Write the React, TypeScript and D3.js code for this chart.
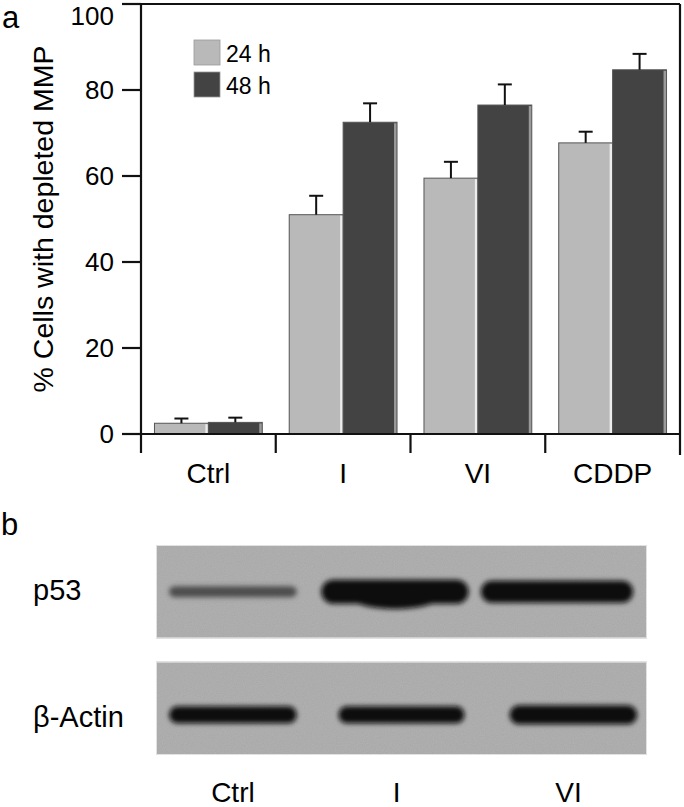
import React from "react";
import * as d3 from "d3";

const categories = ["Ctrl", "I", "VI", "CDDP"];
const series = ["24 h", "48 h"];
const values24 = [2.5, 51, 59.5, 67.7];
const values48 = [2.7, 72.5, 76.5, 84.7];
const err24 = [1.1, 4.4, 3.8, 2.6];
const err48 = [1.1, 4.4, 4.8, 3.7];
const yTicks = [0, 20, 40, 60, 80, 100];
const seriesColors = ["#b9b9b9", "#434343"];
const seriesEdge = ["#ececec", "#9a9a9a"];

const blotLanes = ["Ctrl", "I", "VI"];
const blotRows = ["p53", "β-Actin"];
const p53Intensity = [0.55, 1, 1];
const p53Thickness = [11, 24, 22];
const p53Width = [0.78, 0.9, 0.93];
const p53Offset = [-0.03, -0.04, -0.05];
const actinIntensity = [1, 1, 1];
const actinThickness = [17, 17, 19];
const actinWidth = [0.78, 0.77, 0.78];
const actinOffset = [-0.03, 0, 0.05];

const FONT = "'Liberation Sans', Arial, Helvetica, sans-serif";

export default function App() {
  const W = 684, H = 807;
  const left = 141, right = 680, top = 4, base = 434;
  const x0 = d3.scaleBand<string>().domain(categories).range([left, right]).padding(0);
  const bw = x0.bandwidth();
  const x1 = d3.scaleBand<string>().domain(series).range([bw * 0.1, bw * 0.9]).padding(0);
  const y = d3.scaleLinear().domain([0, 100]).range([base, top]);
  const tickLen = 19;

  const data = categories.map((c, i) => ({
    c,
    vals: [values24[i], values48[i]],
    errs: [err24[i], err48[i]],
  }));

  const blotX = d3.scaleBand<string>().domain(blotLanes).range([156, 647]).padding(0);
  const blotY = d3.scaleBand<string>().domain(blotRows).range([545, 755]).paddingInner(0.2);
  const lw = blotX.bandwidth();
  const rowH = blotY.bandwidth();

  return (
    <svg width={W} height={H} style={{ position: "absolute", left: 0, top: 0, background: "#fff" }} fontFamily={FONT}>
      <defs>
        <filter id="blur" x="-20%" y="-80%" width="140%" height="260%">
          <feGaussianBlur stdDeviation="2.6" />
        </filter>
        <filter id="noise" x="0" y="0" width="100%" height="100%">
          <feTurbulence type="fractalNoise" baseFrequency="0.9" numOctaves="2" seed="3" result="n" />
          <feColorMatrix type="matrix" values="0 0 0 0 0.62  0 0 0 0 0.62  0 0 0 0 0.62  0 0 0 0.25 0" in="n" result="c" />
          <feComposite in="c" in2="SourceGraphic" operator="in" result="t" />
          <feMerge>
            <feMergeNode in="SourceGraphic" />
            <feMergeNode in="t" />
          </feMerge>
        </filter>
      </defs>

      <text x={2} y={28} fontSize={31}>a</text>
      <text x={1} y={535} fontSize={31}>b</text>

      {data.map((d) => (
        <g key={d.c} transform={`translate(${x0(d.c)},0)`}>
          {series.map((s, si) => {
            const bx = x1(s)!;
            const w = x1.bandwidth();
            const yt = y(d.vals[si]);
            const ye = y(d.vals[si] + d.errs[si]);
            return (
              <g key={s}>
                <rect x={bx} y={yt} width={w} height={base - yt} fill={seriesColors[si]} stroke="#555" strokeWidth={1} />
                <rect x={bx + w - 3} y={yt + 1} width={2.5} height={base - yt - 1} fill={seriesEdge[si]} />
                <line x1={bx + w / 2} x2={bx + w / 2} y1={yt} y2={ye} stroke="#111" strokeWidth={2} />
                <line x1={bx + w / 2 - 7} x2={bx + w / 2 + 7} y1={ye} y2={ye} stroke="#111" strokeWidth={2} />
              </g>
            );
          })}
        </g>
      ))}

      <g stroke="#111" strokeWidth={2.2} fill="none">
        <line x1={left - tickLen} x2={right} y1={top} y2={top} />
        <line x1={left} x2={left} y1={top} y2={base + tickLen} />
        <line x1={right} x2={right} y1={top} y2={base + tickLen + 2} />
        <line x1={left - tickLen} x2={right} y1={base} y2={base} />
        {yTicks.map((t) => (
          <line key={t} x1={left - tickLen} x2={left} y1={y(t)} y2={y(t)} />
        ))}
        {categories.slice(1).map((c) => (
          <line key={c} x1={x0(c)!} x2={x0(c)!} y1={base} y2={base + tickLen} />
        ))}
      </g>

      {yTicks.map((t) => (
        <text key={t} x={114} y={Math.max(y(t), 16)} fontSize={26} textAnchor="end" dominantBaseline="central">
          {t}
        </text>
      ))}

      <text transform={`translate(53,${(base + top) / 2}) rotate(-90)`} fontSize={28.5} textAnchor="middle">
        % Cells with depleted MMP
      </text>

      {categories.map((c) => (
        <text key={c} x={x0(c)! + bw / 2} y={483} fontSize={28} textAnchor="middle">
          {c}
        </text>
      ))}

      {series.map((s, i) => (
        <g key={s} transform={`translate(194,${40 + i * 32})`}>
          <rect width={26} height={25} fill={seriesColors[i]} stroke="#999" strokeWidth={0.8} />
          <text x={32} y={22} fontSize={23}>{s}</text>
        </g>
      ))}

      {blotRows.map((r, ri) => {
        const py = blotY(r)!;
        const intens = ri === 0 ? p53Intensity : actinIntensity;
        const thick = ri === 0 ? p53Thickness : actinThickness;
        const widths = ri === 0 ? p53Width : actinWidth;
        const offs = ri === 0 ? p53Offset : actinOffset;
        const cy = py + rowH * (ri === 0 ? 0.5 : 0.57);
        return (
          <g key={r}>
            <rect x={156} y={py} width={491} height={rowH} fill="#a7a7a7" stroke="#e4e4e4" strokeWidth={2} filter="url(#noise)" />
            {blotLanes.map((l, li) => {
              const cx = blotX(l)! + lw / 2 + offs[li] * lw;
              const bwid = widths[li] * lw;
              const th = thick[li];
              const col = d3.interpolateRgb("#a0a0a0", "#0a0a0a")(intens[li]);
              return (
                <g key={l} filter="url(#blur)">
                  <rect x={cx - bwid / 2} y={cy - th / 2} width={bwid} height={th} rx={th / 2} ry={th / 2} fill={col} />
                  {ri === 0 && li === 1 && (
                    <ellipse cx={cx} cy={cy + th * 0.22} rx={bwid * 0.3} ry={th * 0.5} fill={col} />
                  )}
                </g>
              );
            })}
            <text x={33} y={cy + (ri === 0 ? 8 : 12)} fontSize={29}>{r}</text>
          </g>
        );
      })}
      {blotLanes.map((l, li) => (
        <text key={l} x={blotX(l)! + lw / 2 + [-0.03, -0.03, 0.02][li] * lw} y={802} fontSize={28} textAnchor="middle">
          {l}
        </text>
      ))}
    </svg>
  );
}
